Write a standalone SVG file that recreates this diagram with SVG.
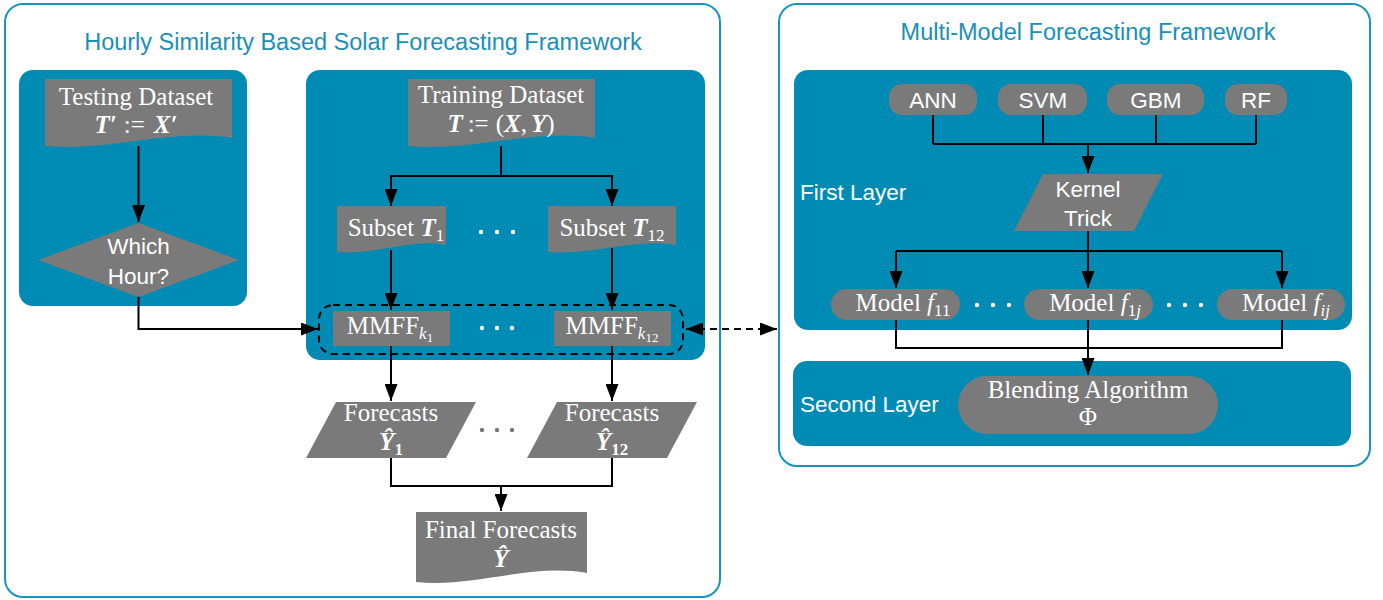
<svg xmlns="http://www.w3.org/2000/svg" width="1383" height="600" viewBox="0 0 1383 600">
<defs>
<marker id="ah" viewBox="0 0 17 13" markerWidth="17" markerHeight="13" refX="17" refY="6.5" markerUnits="userSpaceOnUse" orient="auto-start-reverse"><path d="M0,0 L17,6.5 L0,13 Z" fill="#000"/></marker>
</defs>
<style>
.frame{fill:#fff;stroke:#1795bf;stroke-width:2}
.panel{fill:#008bb4}
.node{fill:#7a7a7a}
.title{font-family:"Liberation Sans",Arial,sans-serif;font-size:23.5px;fill:#1a8fb8;text-anchor:middle}
.sans{font-family:"Liberation Sans",Arial,sans-serif;font-size:22.5px;fill:#fff;text-anchor:middle}
.lbl{font-family:"Liberation Sans",Arial,sans-serif;font-size:22.5px;fill:#fff;text-anchor:start}
.serif{font-family:"Liberation Serif","Times New Roman",serif;font-size:25px;fill:#fff;text-anchor:middle}
.math{font-size:25px}
.bi{font-weight:bold;font-style:italic}
.it{font-style:italic}
.sub{font-size:17px}
.ln{fill:none;stroke:#000;stroke-width:2}
.arr{marker-end:url(#ah)}
.dash{stroke-dasharray:7 5}
.wdot{fill:#fff}
.gdot{fill:#777}
</style>

<g id="frame-hourly">
<rect class="frame" x="5" y="4" width="715" height="593" rx="18"/>
<text class="title" x="363" y="50">Hourly Similarity Based Solar Forecasting Framework</text>
<rect class="panel" x="19" y="70" width="228" height="236" rx="14"/>
<rect class="panel" x="306" y="70" width="399" height="290" rx="14"/>
</g>

<g id="frame-multimodel">
<rect class="frame" x="779" y="4" width="591" height="462" rx="18"/>
<text class="title" x="1088" y="40">Multi-Model Forecasting Framework</text>
<rect class="panel" x="794" y="70" width="558" height="260" rx="14"/>
<text class="lbl" x="800" y="200">First Layer</text>
<rect class="panel" x="793" y="361" width="558" height="85" rx="14"/>
<text class="lbl" x="800" y="412">Second Layer</text>
</g>

<g id="connectors">
<path class="ln arr" d="M138.5,146 V222"/>
<path class="ln arr" d="M138.5,296 V329 H318"/>
<path class="ln" d="M501,146 V176"/>
<path class="ln arr" d="M501,176 H391 V206"/>
<path class="ln arr" d="M501,176 H612 V206"/>
<path class="ln arr" d="M391,250 V310"/>
<path class="ln arr" d="M612,248 V310"/>
<path class="ln arr" d="M391,346 V401"/>
<path class="ln arr" d="M612,346 V401"/>
<path class="ln" d="M391,458 V486 H612 V458"/>
<path class="ln arr" d="M501,486 V511"/>
<path class="ln dash" d="M686,329 H777" marker-start="url(#ah)" marker-end="url(#ah)"/>
<path class="ln" d="M933,115 V144 M1043,115 V144 M1156,115 V144 M1256,115 V144 M933,144 H1256"/>
<path class="ln arr" d="M1088,144 V173"/>
<path class="ln" d="M1088,231 V251 M896,251 H1282"/>
<path class="ln arr" d="M896,251 V288"/>
<path class="ln arr" d="M1088,251 V288"/>
<path class="ln arr" d="M1282,251 V288"/>
<path class="ln" d="M896,320 V348 H1282 V320 M1088,320 V348"/>
<path class="ln arr" d="M1088,348 V375"/>
</g>

<g id="testing-dataset">
<path class="node" d="M45,79 H232 V138 C170,128 110,152 45,146 Z"/>
<text class="serif" x="136" y="105">Testing Dataset</text>
<text class="serif" x="136" y="133" font-size="24"><tspan class="bi">T′</tspan><tspan dx="7">:=</tspan><tspan class="bi" dx="9">X′</tspan></text>
</g>

<g id="which-hour">
<polygon class="node" points="138.5,223 239,260 138.5,297 38,260"/>
<text class="sans" x="138.5" y="254">Which</text>
<text class="sans" x="138.5" y="284">Hour?</text>
</g>

<g id="training-dataset">
<path class="node" d="M408,79 H595 V138 C533,128 473,152 408,146 Z"/>
<text class="serif" x="501" y="103">Training Dataset</text>
<text class="serif math" x="501" y="132"><tspan class="bi">T</tspan><tspan dx="5">:=</tspan><tspan dx="7">(</tspan><tspan class="bi">X</tspan>,<tspan class="bi" dx="4">Y</tspan>)</text>
</g>

<g id="subset-1">
<path class="node" d="M337,206 H446 V245 C410,238 375,256 337,252 Z"/>
<text class="serif" x="396" y="236">Subset <tspan class="bi">T</tspan><tspan class="sub" dy="5">1</tspan></text>
</g>

<g id="subset-12">
<path class="node" d="M548,206 H676 V245 C634,238 592,256 548,252 Z"/>
<text class="serif" x="612" y="236">Subset <tspan class="bi">T</tspan><tspan class="sub" dy="5">12</tspan></text>
</g>
<g id="subset-dots">
<circle class="wdot" cx="481" cy="232" r="2.2"/><circle class="wdot" cx="497" cy="232" r="2.2"/><circle class="wdot" cx="513" cy="232" r="2.2"/>
</g>

<g id="mmff-group">
<rect x="319" y="305" width="364" height="49" rx="14" fill="none" stroke="#000" stroke-width="2" stroke-dasharray="7 5"/>
<circle class="wdot" cx="482" cy="328" r="2.2"/><circle class="wdot" cx="497" cy="328" r="2.2"/><circle class="wdot" cx="512" cy="328" r="2.2"/>
</g>
<g id="mmff-1">
<rect class="node" x="333" y="311" width="117" height="35"/>
<text class="serif" x="390" y="334">MMFF<tspan class="it" font-size="17" dy="5">k</tspan><tspan font-size="13" dy="3">1</tspan></text>
</g>
<g id="mmff-12">
<rect class="node" x="554" y="311" width="117" height="35"/>
<text class="serif" x="612" y="334">MMFF<tspan class="it" font-size="17" dy="5">k</tspan><tspan font-size="13" dy="3">12</tspan></text>
</g>

<g id="forecasts-1">
<polygon class="node" points="336,402 476,402 446,458 306,458"/>
<text class="serif" x="391" y="421">Forecasts</text>
<text class="serif math" x="391" y="450"><tspan class="bi">Ŷ</tspan><tspan class="sub" font-weight="bold" dy="5">1</tspan></text>
</g>
<g id="forecasts-12">
<polygon class="node" points="557,402 697,402 667,458 527,458"/>
<text class="serif" x="612" y="421">Forecasts</text>
<text class="serif math" x="612" y="450"><tspan class="bi">Ŷ</tspan><tspan class="sub" font-weight="bold" dy="5">12</tspan></text>
</g>
<g id="forecast-dots">
<circle class="gdot" cx="482" cy="430" r="2.2"/><circle class="gdot" cx="497" cy="430" r="2.2"/><circle class="gdot" cx="512" cy="430" r="2.2"/>
</g>

<g id="final-forecasts">
<path class="node" d="M416,512 H587 V573 C530,563 473,588 416,582 Z"/>
<text class="serif" x="501" y="538">Final Forecasts</text>
<text class="serif math bi" x="501" y="567">Ŷ</text>
</g>

<g id="ann"><rect class="node" x="889" y="84" width="88" height="31" rx="13"/><text class="sans" x="933" y="108">ANN</text></g>
<g id="svm"><rect class="node" x="998" y="84" width="89" height="31" rx="13"/><text class="sans" x="1043" y="108">SVM</text></g>
<g id="gbm"><rect class="node" x="1107" y="84" width="97" height="31" rx="13"/><text class="sans" x="1156" y="108">GBM</text></g>
<g id="rf"><rect class="node" x="1225" y="84" width="62" height="31" rx="13"/><text class="sans" x="1256" y="108">RF</text></g>

<g id="kernel-trick">
<polygon class="node" points="1043,174 1163,174 1134,231 1014,231"/>
<text class="sans" x="1088" y="197">Kernel</text>
<text class="sans" x="1088" y="226">Trick</text>
</g>

<g id="model-f11"><rect class="node" x="831" y="289" width="129" height="31" rx="15.5"/>
<text class="serif" x="903" y="311">Model <tspan class="it">f</tspan><tspan class="sub" dy="5">11</tspan></text></g>
<g id="model-f1j"><rect class="node" x="1024" y="289" width="129" height="31" rx="15.5"/>
<text class="serif" x="1095" y="311">Model <tspan class="it">f</tspan><tspan class="sub" dy="5">1</tspan><tspan class="sub it">j</tspan></text></g>
<g id="model-fij"><rect class="node" x="1217" y="289" width="128" height="31" rx="15.5"/>
<text class="serif" x="1286" y="311">Model <tspan class="it">f</tspan><tspan class="sub it" dy="5">ij</tspan></text></g>
<g id="model-dots">
<circle class="wdot" cx="977" cy="305" r="2.2"/><circle class="wdot" cx="993" cy="305" r="2.2"/><circle class="wdot" cx="1009" cy="305" r="2.2"/>
<circle class="wdot" cx="1169" cy="305" r="2.2"/><circle class="wdot" cx="1185" cy="305" r="2.2"/><circle class="wdot" cx="1201" cy="305" r="2.2"/>
</g>

<g id="blending">
<rect class="node" x="958" y="376" width="260" height="58" rx="29"/>
<text class="serif" x="1088" y="398">Blending Algorithm</text>
<text class="serif" x="1088" y="425">Φ</text>
</g>
</svg>
